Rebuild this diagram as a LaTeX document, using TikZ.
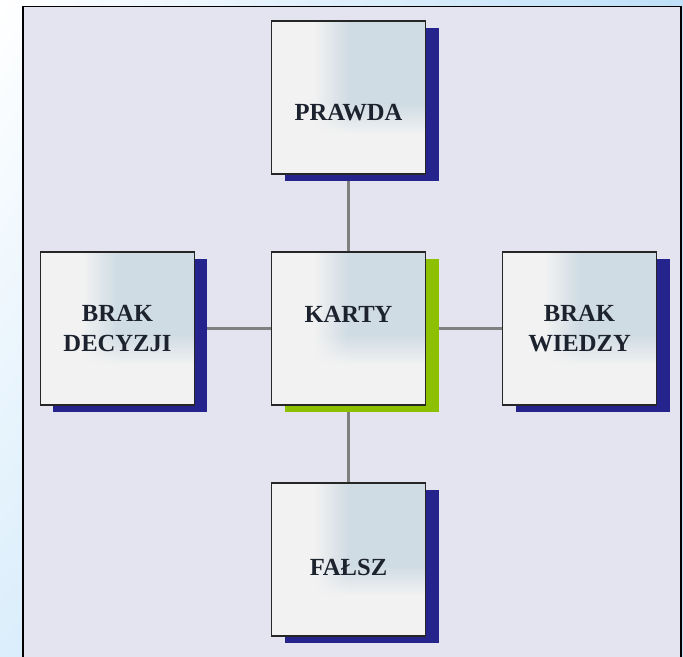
\documentclass[tikz,border=0pt]{standalone}
\usepackage{fontspec}
\setmainfont{Liberation Serif}
\usetikzlibrary{positioning,shadows,shadings}
\definecolor{panelfill}{RGB}{228,228,240}
\definecolor{skyblue}{RGB}{190,224,248}
\definecolor{cardwhite}{RGB}{242,242,242}
\definecolor{cardblue}{RGB}{208,220,228}
\definecolor{navyshade}{RGB}{36,36,140}
\definecolor{limeshade}{RGB}{140,192,0}
\definecolor{cardtext}{RGB}{28,34,46}
\pgfdeclarelayer{back}
\pgfdeclarelayer{links}
\pgfsetlayers{back,links,main}
\tikzset{node distance=6.93cm,
  card/.style={draw=black!85,line width=1.6pt,fill=cardwhite,
    minimum width=4.62cm,minimum height=4.59cm,inner sep=0pt,
    align=center,text=cardtext,font=\bfseries\fontsize{21}{25.6}\selectfont,
    path picture={
      \coordinate (ne) at (path picture bounding box.north east);
      \fill[cardblue] ([xshift=-2.34cm,yshift=-2.49cm]ne) rectangle (ne);
      \shade[left color=cardwhite,right color=cardblue]
        ([xshift=-3.36cm,yshift=-2.49cm]ne) rectangle ([xshift=-2.34cm]ne);
      \shade[top color=cardblue,bottom color=cardwhite]
        ([xshift=-2.34cm,yshift=-3.39cm]ne) rectangle ([yshift=-2.49cm]ne);
      \shade[upper right=cardblue,upper left=cardwhite,lower left=cardwhite,lower right=cardwhite]
        ([xshift=-3.36cm,yshift=-3.39cm]ne) rectangle ([xshift=-2.34cm,yshift=-2.49cm]ne);}},
  navy/.style={drop shadow={shadow xshift=0.39cm,shadow yshift=-0.21cm,fill=navyshade,opacity=1}},
  lime/.style={drop shadow={shadow xshift=0.39cm,shadow yshift=-0.21cm,fill=limeshade,opacity=1}},
  link/.style={draw=black!50,line width=1.8pt}}

\begin{document}
\begin{tikzpicture}[x=0.03cm,y=0.03cm]
        \useasboundingbox (0,0) rectangle (683,657);
        \begin{pgfonlayer}{back}
          \shade[upper left=white,upper right=skyblue,lower left=skyblue!55,lower right=skyblue] (0,0) rectangle (683,657);
          \draw[fill=panelfill,line width=1.3pt] (23,650.5) rectangle (681,-10);
        \end{pgfonlayer}

        \node [card,lime,text height=0cm,text depth=0.36cm] (karty) at (348.5,328.5) {KARTY};
        \node [card,navy,text height=1.38cm,text depth=0cm] (prawda) [above of=karty] {PRAWDA};
        \node [card,navy] (decyzji) [left of=karty] {BRAK\\DECYZJI};
        \node [card,navy] (wiedzy) [right of=karty] {BRAK\\WIEDZY};
        \node [card,navy,text height=0.96cm,text depth=0cm] (falsz) [below of=karty] {FAŁSZ};

        \begin{pgfonlayer}{links}
          \draw [link] (prawda) -- (karty);
          \draw [link] (decyzji) -- (karty);
          \draw [link] (karty) -- (wiedzy);
          \draw [link] (karty) -- (falsz);
        \end{pgfonlayer}
      \end{tikzpicture}
\end{document}
